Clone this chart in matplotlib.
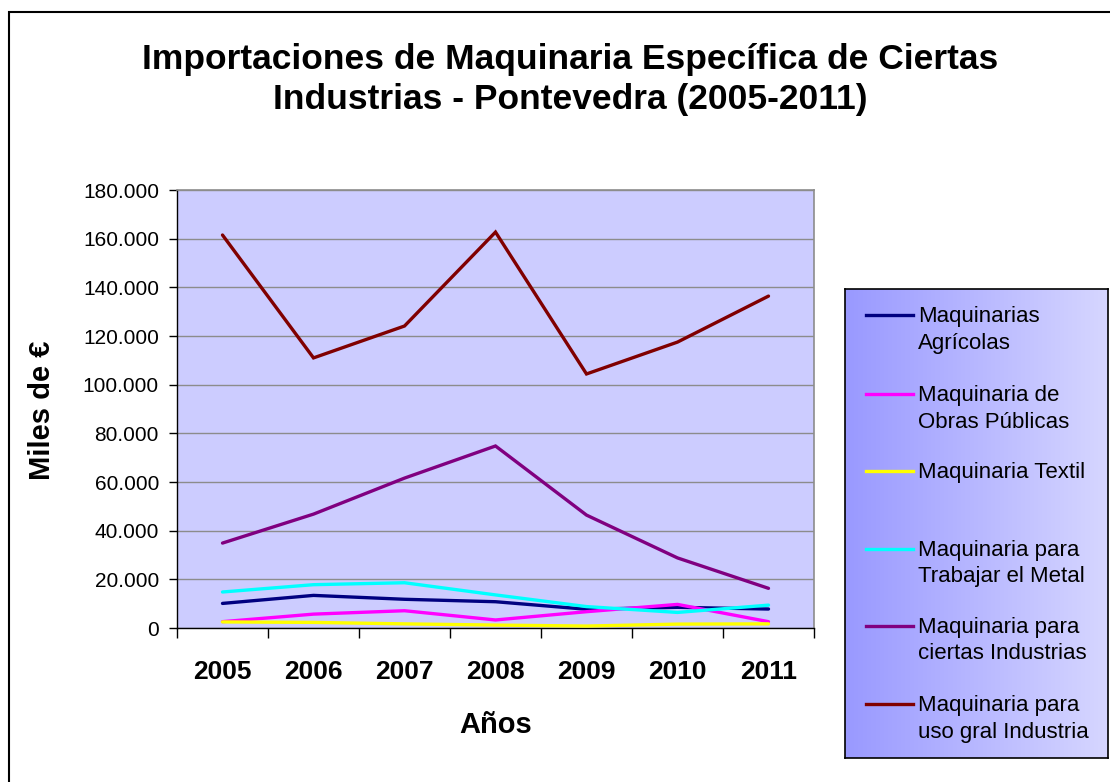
import matplotlib
matplotlib.use("Agg")
import matplotlib.pyplot as plt
import numpy as np
from matplotlib.ticker import FuncFormatter, FixedLocator
from matplotlib.patches import Rectangle
from matplotlib.lines import Line2D

plt.rcParams['font.family'] = ['Liberation Sans', 'DejaVu Sans']

years = ["2005", "2006", "2007", "2008", "2009", "2010", "2011"]

agricolas = [10100, 13400, 11800, 10800, 7700, 8500, 7800]
obras_publicas = [2600, 5700, 7100, 3300, 6700, 9700, 2600]
textil = [2500, 2300, 1700, 1200, 800, 1600, 1700]
trabajar_metal = [14800, 17800, 18600, 13600, 8800, 6400, 9400]
ciertas_industrias = [34900, 46800, 61600, 74800, 46400, 28800, 16300]
uso_gral = [161500, 111000, 124100, 162700, 104400, 117500, 136400]

series = [
    ("Maquinarias\nAgrícolas", agricolas, "#000080"),
    ("Maquinaria de\nObras Públicas", obras_publicas, "#FF00FF"),
    ("Maquinaria Textil", textil, "#FFFF00"),
    ("Maquinaria para\nTrabajar el Metal", trabajar_metal, "#00FFFF"),
    ("Maquinaria para\nciertas Industrias", ciertas_industrias, "#800080"),
    ("Maquinaria para\nuso gral Industria", uso_gral, "#800000"),
]

W, H = 1110, 782
fig = plt.figure(figsize=(W / 100, H / 100), dpi=100)
fig.patch.set_facecolor("white")


def fx(px):
    return px / W


def fy(py):
    return 1 - py / H


# outer chart frame
fig.patches.append(Rectangle((fx(9), fy(790)), 1.2, (790 - 12) / H,
                             transform=fig.transFigure, fill=False,
                             edgecolor="black", linewidth=1.5, zorder=0))

ax = fig.add_axes([fx(177), fy(628), (814 - 177) / W, (628 - 190) / H])
ax.set_facecolor("#CCCCFF")

x = np.arange(len(years))
for label, vals, color in series:
    ax.plot(x, vals, color=color, linewidth=2.4, solid_capstyle="round",
            solid_joinstyle="miter", zorder=3)

ax.set_xlim(-0.5, len(years) - 0.5)
ax.set_ylim(0, 180000)
ax.yaxis.set_major_locator(FixedLocator(np.arange(0, 180001, 20000)))
ax.yaxis.set_major_formatter(FuncFormatter(lambda v, p: f"{int(v):,}".replace(",", ".")))
ax.grid(axis="y", color="#8C8C8C", linewidth=1.0, zorder=1)
ax.set_axisbelow(True)

ax.xaxis.set_major_locator(FixedLocator(np.arange(-0.5, len(years), 1.0)))
ax.xaxis.set_major_formatter(FuncFormatter(lambda v, p: ""))
ax.xaxis.set_minor_locator(FixedLocator(x))
ax.set_xticklabels(years, minor=True)
ax.tick_params(axis="x", which="major", length=7, width=1, direction="out", color="black")
ax.tick_params(axis="x", which="minor", length=0, pad=23, labelsize=19)
for t in ax.get_xticklabels(minor=True):
    t.set_fontweight("bold")
ax.tick_params(axis="y", length=6, width=1, direction="out", labelsize=15, pad=7)

for side in ("top", "right"):
    ax.spines[side].set_color("#8C8C8C")
    ax.spines[side].set_linewidth(1.2)
for side in ("left", "bottom"):
    ax.spines[side].set_color("black")
    ax.spines[side].set_linewidth(1.0)

fig.text(fx(496), fy(725), "Años", ha="center", va="center",
         fontsize=21, fontweight="bold")
fig.text(fx(42), fy(410), "Miles de €", ha="center", va="center",
         rotation=90, fontsize=21, fontweight="bold")

title_lines = ["Importaciones de Maquinaria Específica de Ciertas",
               "Industrias - Pontevedra (2005-2011)"]
for line, base in zip(title_lines, [69.5, 109.5]):
    fig.text(fx(570), fy(base), line, ha="center", va="baseline",
             fontsize=25.5, fontweight="bold")

# legend panel with horizontal gradient
lx0, lx1, ly0, ly1 = 845, 1108, 289, 758
lax = fig.add_axes([fx(lx0), fy(ly1), (lx1 - lx0) / W, (ly1 - ly0) / H])
grad = np.linspace(0, 1, 256)[None, :]
c0 = np.array([0.60, 0.60, 1.0])
c1 = np.array([0.84, 0.84, 1.0])
img = c0[None, None, :] * (1 - grad[..., None]) + c1[None, None, :] * grad[..., None]
lax.imshow(img, extent=[lx0, lx1, ly1, ly0], aspect="auto", zorder=0)
lax.set_xlim(lx0, lx1)
lax.set_ylim(ly1, ly0)
lax.set_xticks([])
lax.set_yticks([])
for s in lax.spines.values():
    s.set_color("black")
    s.set_linewidth(1.2)

legend_y = [315, 394, 470.7, 548.7, 625.7, 704]
for (label, vals, color), yp in zip(series, legend_y):
    lax.add_line(Line2D([866, 913], [yp, yp], color=color, linewidth=2.4))
    for k, part in enumerate(label.split("\n")):
        lax.text(918, yp + 7 + 26.7 * k, part, ha="left", va="baseline",
                 fontsize=16)

fig.savefig("out.png", dpi=100)
